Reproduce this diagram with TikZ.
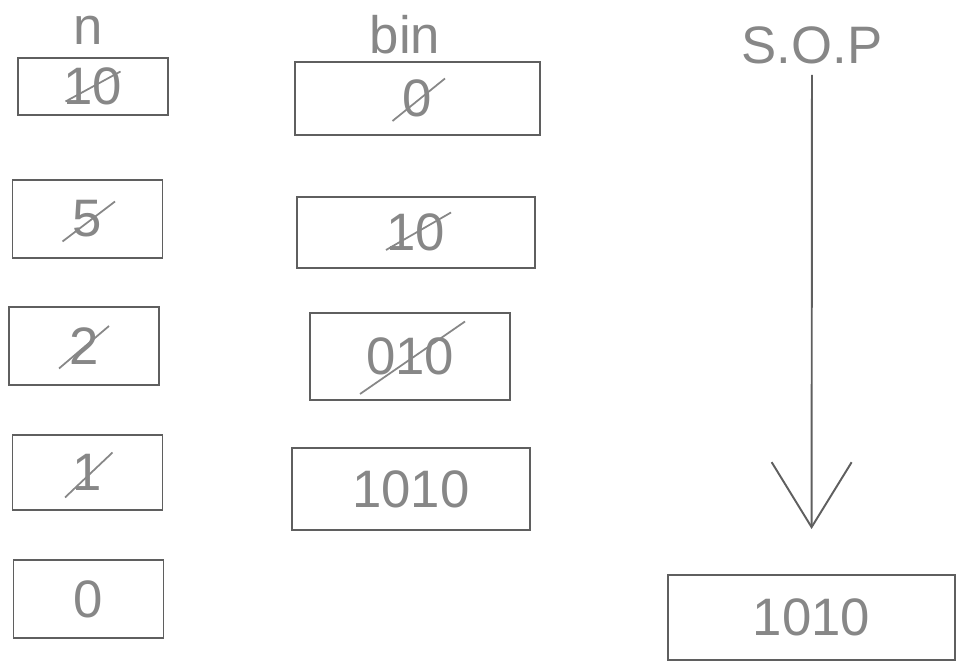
\documentclass[tikz,border=0pt]{standalone}
\usepackage{fontspec}
\setmainfont{Liberation Sans}
\usetikzlibrary{positioning, arrows.meta}
\definecolor{penline}{RGB}{95,95,95}
\definecolor{pentext}{RGB}{135,135,135}

\begin{document}
\begin{tikzpicture}[
  cell/.style={draw=penline, line width=1.1pt, minimum width=3.0cm, minimum height=1.5cm,
               text=pentext, font=\fontsize{30}{32}\selectfont},
  title/.style={text=pentext, font=\fontsize{30}{32}\selectfont},
  strikeline/.style={draw=pentext, line width=1pt},
  arrow/.style={-{Straight Barb[length=1.3cm, width=1.6cm]}, penline, line width=1.1pt}
]
  \useasboundingbox (0,0) rectangle (19.2,-13.32);
  % column titles
  \node[title] (tn) at (1.76,-0.6) {n};
  \node[title] (tb) at (8.1,-0.7) {bin};
  \node[title] (ts) at (16.24,-0.9) {S.O.P};
  % n column
  \node[cell, minimum height=1.14cm] (n1) at (1.86,-1.73) {10};
  \node[cell, minimum height=1.56cm] (n2) at (1.75,-4.38) {5};
  \node[cell, minimum height=1.56cm] (n3) at (1.68,-6.92) {2};
  \node[cell] (n4) at (1.75,-9.45) {1};
  \node[cell, minimum height=1.56cm] (n5) at (1.77,-11.98) {0};
  % bin column
  \node[cell, minimum width=4.9cm, minimum height=1.46cm] (b1) at (8.35,-1.97) {0};
  \node[cell, minimum width=4.76cm, minimum height=1.42cm] (b2) at (8.32,-4.65) {10};
  \node[cell, minimum width=4.0cm, minimum height=1.74cm] (b3) at (8.2,-7.13) {010};
  \node[cell, minimum width=4.76cm, minimum height=1.64cm] (b4) at (8.22,-9.78) {1010};
  % output
  \node[cell, minimum width=5.74cm, minimum height=1.7cm] (res) at (16.23,-12.35) {1010};
  % crossed-out values
  \draw[strikeline] ([shift={(-0.55,-0.3)}]n1.center) -- ([shift={(0.55,0.3)}]n1.center);
  \draw[strikeline] ([shift={(-0.5,-0.45)}]n2.center) -- ([shift={(0.55,0.35)}]n2.center);
  \draw[strikeline] ([shift={(-0.5,-0.45)}]n3.center) -- ([shift={(0.5,0.4)}]n3.center);
  \draw[strikeline] ([shift={(-0.45,-0.5)}]n4.center) -- ([shift={(0.5,0.4)}]n4.center);
  \draw[strikeline] ([shift={(-0.5,-0.45)}]b1.center) -- ([shift={(0.55,0.4)}]b1.center);
  \draw[strikeline] ([shift={(-0.6,-0.35)}]b2.center) -- ([shift={(0.7,0.4)}]b2.center);
  \draw[strikeline] ([shift={(-1.0,-0.75)}]b3.center) -- ([shift={(1.1,0.7)}]b3.center);
  % flow to output
  \draw[arrow, shorten <=0.1cm, shorten >=0.9cm] (ts) -- (res);
\end{tikzpicture}
\end{document}
